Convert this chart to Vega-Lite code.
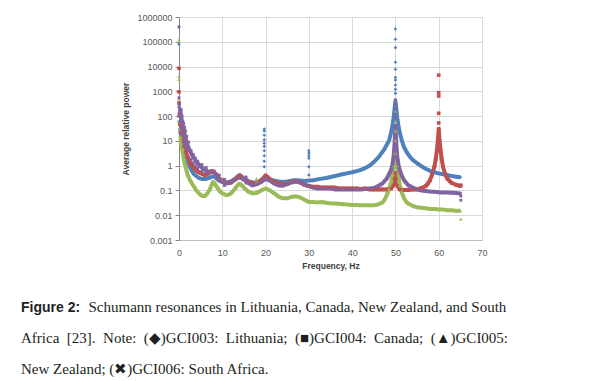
{
"$schema": "https://vega.github.io/schema/vega-lite/v6.json",
"autosize": "none",
"width": 303,
"height": 223,
"padding": {"left": 179, "top": 17, "right": 111, "bottom": 141},
"background": "white",
"config": {"view": {"stroke": null}},
"title": {
  "text": "Figure 2:",
  "subtitle": ["\u200b\u00a0\u00a0\u00a0\u00a0\u00a0\u00a0\u00a0\u00a0\u00a0\u00a0\u00a0\u00a0\u00a0\u00a0\u00a0\u00a0\u00a0\u00a0Schumann resonances in Lithuania, Canada, New Zealand, and South", "Africa\u00a0 [23].\u00a0 Note:\u00a0  (\u25c6)GCI003:\u00a0 Lithuania;\u00a0 (\u25a0)GCI004:\u00a0 Canada;\u00a0 (\u25b2)GCI005:", "New Zealand; (\u2716)GCI006: South Africa."],
  "orient": "bottom", "anchor": "start", "frame": "group", "dx": -158, "offset": 31,
  "font": "Liberation Sans", "fontSize": 14, "fontWeight": "bold", "color": "#231f20",
  "subtitleFont": "Liberation Serif", "subtitleFontSize": 15, "subtitleColor": "#231f20",
  "subtitleLineHeight": 31, "subtitlePadding": -15
},
"data": {"values": [
{"s":"GCI003","f":0,"v":80000,"k":1},{"s":"GCI003","f":0,"v":300,"k":1},{"s":"GCI003","f":0,"v":60,"k":1},{"s":"GCI003","f":0.1,"v":100,"k":1},
{"s":"GCI003","f":0.2,"v":30},{"s":"GCI003","f":0.5,"v":15},{"s":"GCI003","f":0.8,"v":8},{"s":"GCI003","f":1,"v":6},{"s":"GCI003","f":1.3,"v":3.5},{"s":"GCI003","f":1.6,"v":2.2},{"s":"GCI003","f":2,"v":1.4},{"s":"GCI003","f":2.5,"v":0.9},{"s":"GCI003","f":3,"v":0.6},{"s":"GCI003","f":3.5,"v":0.45},{"s":"GCI003","f":4,"v":0.38},{"s":"GCI003","f":4.5,"v":0.33},{"s":"GCI003","f":5,"v":0.3},{"s":"GCI003","f":5.5,"v":0.29},{"s":"GCI003","f":6,"v":0.29},{"s":"GCI003","f":6.5,"v":0.3},{"s":"GCI003","f":7,"v":0.32},{"s":"GCI003","f":7.5,"v":0.36},{"s":"GCI003","f":8,"v":0.37},{"s":"GCI003","f":8.5,"v":0.32},{"s":"GCI003","f":9,"v":0.27},{"s":"GCI003","f":9.5,"v":0.24},{"s":"GCI003","f":10,"v":0.22},{"s":"GCI003","f":11,"v":0.21},{"s":"GCI003","f":12,"v":0.23},{"s":"GCI003","f":13,"v":0.3},{"s":"GCI003","f":13.5,"v":0.36},{"s":"GCI003","f":14,"v":0.42},{"s":"GCI003","f":14.5,"v":0.36},{"s":"GCI003","f":15,"v":0.3},{"s":"GCI003","f":16,"v":0.24},{"s":"GCI003","f":17,"v":0.21},{"s":"GCI003","f":18,"v":0.21},{"s":"GCI003","f":19,"v":0.24},{"s":"GCI003","f":19.5,"v":0.3},{"s":"GCI003","f":20,"v":0.38},{"s":"GCI003","f":20.5,"v":0.32},{"s":"GCI003","f":21,"v":0.28},{"s":"GCI003","f":22,"v":0.25},{"s":"GCI003","f":23,"v":0.23},{"s":"GCI003","f":24,"v":0.22},{"s":"GCI003","f":25,"v":0.23},{"s":"GCI003","f":26,"v":0.25},{"s":"GCI003","f":27,"v":0.26},{"s":"GCI003","f":28,"v":0.25},{"s":"GCI003","f":29,"v":0.24},{"s":"GCI003","f":30,"v":0.25},{"s":"GCI003","f":31,"v":0.26},{"s":"GCI003","f":32,"v":0.28},{"s":"GCI003","f":33,"v":0.3},{"s":"GCI003","f":34,"v":0.32},{"s":"GCI003","f":35,"v":0.35},{"s":"GCI003","f":36,"v":0.38},{"s":"GCI003","f":37,"v":0.42},{"s":"GCI003","f":38,"v":0.46},{"s":"GCI003","f":39,"v":0.5},{"s":"GCI003","f":40,"v":0.54},{"s":"GCI003","f":41,"v":0.6},{"s":"GCI003","f":42,"v":0.68},{"s":"GCI003","f":43,"v":0.8},{"s":"GCI003","f":44,"v":1},{"s":"GCI003","f":45,"v":1.4},{"s":"GCI003","f":46,"v":2.1},{"s":"GCI003","f":46.5,"v":2.7},{"s":"GCI003","f":47,"v":3.6},{"s":"GCI003","f":47.5,"v":4.8},{"s":"GCI003","f":48,"v":7},{"s":"GCI003","f":48.5,"v":10},{"s":"GCI003","f":49,"v":22},{"s":"GCI003","f":49.3,"v":40},{"s":"GCI003","f":49.6,"v":90},{"s":"GCI003","f":49.8,"v":200},{"s":"GCI003","f":50,"v":400},{"s":"GCI003","f":50.2,"v":200},{"s":"GCI003","f":50.4,"v":90},{"s":"GCI003","f":50.7,"v":40},{"s":"GCI003","f":51,"v":22},{"s":"GCI003","f":51.5,"v":10},{"s":"GCI003","f":52,"v":5.5},{"s":"GCI003","f":52.5,"v":3.8},{"s":"GCI003","f":53,"v":2.8},{"s":"GCI003","f":53.5,"v":2.1},{"s":"GCI003","f":54,"v":1.7},{"s":"GCI003","f":55,"v":1.25},{"s":"GCI003","f":56,"v":0.95},{"s":"GCI003","f":57,"v":0.75},{"s":"GCI003","f":58,"v":0.62},{"s":"GCI003","f":59,"v":0.54},{"s":"GCI003","f":60,"v":0.49},{"s":"GCI003","f":61,"v":0.45},{"s":"GCI003","f":62,"v":0.42},{"s":"GCI003","f":63,"v":0.38},{"s":"GCI003","f":64,"v":0.36},{"s":"GCI003","f":65,"v":0.34},
{"s":"GCI003","f":19.7,"v":30,"k":1},{"s":"GCI003","f":19.7,"v":25,"k":1},{"s":"GCI003","f":19.7,"v":17,"k":1},{"s":"GCI003","f":19.7,"v":11,"k":1},{"s":"GCI003","f":19.7,"v":8,"k":1},{"s":"GCI003","f":19.7,"v":6,"k":1},{"s":"GCI003","f":19.7,"v":4,"k":1},{"s":"GCI003","f":19.7,"v":2.5,"k":1},{"s":"GCI003","f":19.7,"v":1.5,"k":1},{"s":"GCI003","f":19.7,"v":0.9,"k":1},
{"s":"GCI003","f":30,"v":4,"k":1},{"s":"GCI003","f":30,"v":3.2,"k":1},{"s":"GCI003","f":30,"v":2.5,"k":1},{"s":"GCI003","f":30,"v":2,"k":1},{"s":"GCI003","f":30,"v":0.9,"k":1},{"s":"GCI003","f":30,"v":0.42,"k":1},
{"s":"GCI003","f":50,"v":330000,"k":1},{"s":"GCI003","f":50,"v":126000,"k":1},{"s":"GCI003","f":50,"v":58000,"k":1},{"s":"GCI003","f":50,"v":15000,"k":1},{"s":"GCI003","f":50,"v":7800,"k":1},{"s":"GCI003","f":50,"v":3700,"k":1},{"s":"GCI003","f":50,"v":2900,"k":1},{"s":"GCI003","f":50,"v":1800,"k":1},{"s":"GCI003","f":50,"v":1200,"k":1},{"s":"GCI003","f":50,"v":830,"k":1},{"s":"GCI003","f":50,"v":450,"k":1},{"s":"GCI003","f":65.1,"v":0.17,"k":1},
{"s":"GCI004","f":0,"v":8500,"k":1},{"s":"GCI004","f":0,"v":950,"k":1},{"s":"GCI004","f":0,"v":340,"k":1},{"s":"GCI004","f":0.1,"v":120,"k":1},
{"s":"GCI004","f":0.2,"v":50},{"s":"GCI004","f":0.4,"v":40},{"s":"GCI004","f":0.6,"v":25},{"s":"GCI004","f":0.8,"v":15},{"s":"GCI004","f":1,"v":10},{"s":"GCI004","f":1.3,"v":6},{"s":"GCI004","f":1.6,"v":3.5},{"s":"GCI004","f":2,"v":2.2},{"s":"GCI004","f":2.5,"v":1.4},{"s":"GCI004","f":3,"v":1},{"s":"GCI004","f":3.5,"v":0.8},{"s":"GCI004","f":4,"v":0.65},{"s":"GCI004","f":4.5,"v":0.55},{"s":"GCI004","f":5,"v":0.5},{"s":"GCI004","f":5.5,"v":0.45},{"s":"GCI004","f":6,"v":0.42},{"s":"GCI004","f":6.5,"v":0.45},{"s":"GCI004","f":7,"v":0.52},{"s":"GCI004","f":7.5,"v":0.6},{"s":"GCI004","f":8,"v":0.58},{"s":"GCI004","f":8.5,"v":0.45},{"s":"GCI004","f":9,"v":0.35},{"s":"GCI004","f":9.5,"v":0.28},{"s":"GCI004","f":10,"v":0.24},{"s":"GCI004","f":11,"v":0.2},{"s":"GCI004","f":12,"v":0.21},{"s":"GCI004","f":13,"v":0.28},{"s":"GCI004","f":13.5,"v":0.34},{"s":"GCI004","f":14,"v":0.4},{"s":"GCI004","f":14.5,"v":0.34},{"s":"GCI004","f":15,"v":0.28},{"s":"GCI004","f":16,"v":0.22},{"s":"GCI004","f":17,"v":0.19},{"s":"GCI004","f":18,"v":0.2},{"s":"GCI004","f":19,"v":0.26},{"s":"GCI004","f":20,"v":0.4},{"s":"GCI004","f":20.5,"v":0.34},{"s":"GCI004","f":21,"v":0.28},{"s":"GCI004","f":22,"v":0.22},{"s":"GCI004","f":23,"v":0.19},{"s":"GCI004","f":24,"v":0.18},{"s":"GCI004","f":25,"v":0.19},{"s":"GCI004","f":26,"v":0.22},{"s":"GCI004","f":27,"v":0.24},{"s":"GCI004","f":28,"v":0.21},{"s":"GCI004","f":29,"v":0.17},{"s":"GCI004","f":30,"v":0.15},{"s":"GCI004","f":31,"v":0.14},{"s":"GCI004","f":32,"v":0.14},{"s":"GCI004","f":33,"v":0.13},{"s":"GCI004","f":34,"v":0.13},{"s":"GCI004","f":35,"v":0.13},{"s":"GCI004","f":36,"v":0.13},{"s":"GCI004","f":37,"v":0.12},{"s":"GCI004","f":38,"v":0.12},{"s":"GCI004","f":39,"v":0.12},{"s":"GCI004","f":40,"v":0.12},{"s":"GCI004","f":41,"v":0.12},{"s":"GCI004","f":42,"v":0.115},{"s":"GCI004","f":43,"v":0.12},{"s":"GCI004","f":44,"v":0.11},{"s":"GCI004","f":45,"v":0.11},{"s":"GCI004","f":46,"v":0.11},{"s":"GCI004","f":47,"v":0.11},{"s":"GCI004","f":48,"v":0.11},{"s":"GCI004","f":49,"v":0.12},{"s":"GCI004","f":49.5,"v":0.16},{"s":"GCI004","f":49.8,"v":0.3},{"s":"GCI004","f":50,"v":0.5},{"s":"GCI004","f":50.2,"v":0.3},{"s":"GCI004","f":50.5,"v":0.15},{"s":"GCI004","f":51,"v":0.11},{"s":"GCI004","f":52,"v":0.105},{"s":"GCI004","f":53,"v":0.105},{"s":"GCI004","f":54,"v":0.11},{"s":"GCI004","f":55,"v":0.11},{"s":"GCI004","f":56,"v":0.125},{"s":"GCI004","f":57,"v":0.15},{"s":"GCI004","f":57.5,"v":0.19},{"s":"GCI004","f":58,"v":0.26},{"s":"GCI004","f":58.5,"v":0.45},{"s":"GCI004","f":59,"v":0.9},{"s":"GCI004","f":59.3,"v":1.8},{"s":"GCI004","f":59.6,"v":4.5},{"s":"GCI004","f":59.8,"v":10},{"s":"GCI004","f":60,"v":30},{"s":"GCI004","f":60.2,"v":10},{"s":"GCI004","f":60.4,"v":4.5},{"s":"GCI004","f":60.7,"v":1.8},{"s":"GCI004","f":61,"v":0.9},{"s":"GCI004","f":61.5,"v":0.45},{"s":"GCI004","f":62,"v":0.3},{"s":"GCI004","f":62.5,"v":0.24},{"s":"GCI004","f":63,"v":0.2},{"s":"GCI004","f":64,"v":0.17},{"s":"GCI004","f":65,"v":0.15},
{"s":"GCI004","f":60,"v":4500,"k":1},{"s":"GCI004","f":60,"v":880,"k":1},{"s":"GCI004","f":60,"v":650,"k":1},{"s":"GCI004","f":60,"v":130,"k":1},{"s":"GCI004","f":60,"v":53,"k":1},{"s":"GCI004","f":65.1,"v":0.16,"k":1},
{"s":"GCI005","f":0,"v":120000,"k":1},{"s":"GCI005","f":0,"v":4000,"k":1},{"s":"GCI005","f":0,"v":3000,"k":1},{"s":"GCI005","f":0,"v":500,"k":1},{"s":"GCI005","f":0,"v":60,"k":1},{"s":"GCI005","f":0.1,"v":30,"k":1},
{"s":"GCI005","f":0.3,"v":15},{"s":"GCI005","f":0.5,"v":8},{"s":"GCI005","f":0.8,"v":4},{"s":"GCI005","f":1,"v":2.3},{"s":"GCI005","f":1.3,"v":1.3},{"s":"GCI005","f":1.5,"v":0.9},{"s":"GCI005","f":2,"v":0.42},{"s":"GCI005","f":2.5,"v":0.27},{"s":"GCI005","f":3,"v":0.19},{"s":"GCI005","f":3.5,"v":0.14},{"s":"GCI005","f":4,"v":0.1},{"s":"GCI005","f":4.5,"v":0.08},{"s":"GCI005","f":5,"v":0.066},{"s":"GCI005","f":5.5,"v":0.06},{"s":"GCI005","f":6,"v":0.06},{"s":"GCI005","f":6.5,"v":0.075},{"s":"GCI005","f":7,"v":0.1},{"s":"GCI005","f":7.5,"v":0.16},{"s":"GCI005","f":7.8,"v":0.22},{"s":"GCI005","f":8.2,"v":0.2},{"s":"GCI005","f":8.5,"v":0.16},{"s":"GCI005","f":9,"v":0.12},{"s":"GCI005","f":9.5,"v":0.09},{"s":"GCI005","f":10,"v":0.076},{"s":"GCI005","f":11,"v":0.064},{"s":"GCI005","f":12,"v":0.075},{"s":"GCI005","f":13,"v":0.12},{"s":"GCI005","f":13.5,"v":0.16},{"s":"GCI005","f":14,"v":0.19},{"s":"GCI005","f":14.5,"v":0.16},{"s":"GCI005","f":15,"v":0.13},{"s":"GCI005","f":16,"v":0.09},{"s":"GCI005","f":17,"v":0.076},{"s":"GCI005","f":18,"v":0.08},{"s":"GCI005","f":19,"v":0.1},{"s":"GCI005","f":20,"v":0.12},{"s":"GCI005","f":21,"v":0.1},{"s":"GCI005","f":22,"v":0.076},{"s":"GCI005","f":23,"v":0.056},{"s":"GCI005","f":24,"v":0.048},{"s":"GCI005","f":25,"v":0.048},{"s":"GCI005","f":26,"v":0.055},{"s":"GCI005","f":27,"v":0.058},{"s":"GCI005","f":28,"v":0.052},{"s":"GCI005","f":29,"v":0.042},{"s":"GCI005","f":30,"v":0.034},{"s":"GCI005","f":31,"v":0.034},{"s":"GCI005","f":32,"v":0.033},{"s":"GCI005","f":33,"v":0.034},{"s":"GCI005","f":34,"v":0.032},{"s":"GCI005","f":35,"v":0.03},{"s":"GCI005","f":36,"v":0.03},{"s":"GCI005","f":37,"v":0.029},{"s":"GCI005","f":38,"v":0.028},{"s":"GCI005","f":39,"v":0.027},{"s":"GCI005","f":40,"v":0.026},{"s":"GCI005","f":41,"v":0.026},{"s":"GCI005","f":42,"v":0.025},{"s":"GCI005","f":43,"v":0.025},{"s":"GCI005","f":44,"v":0.025},{"s":"GCI005","f":45,"v":0.025},{"s":"GCI005","f":46,"v":0.027},{"s":"GCI005","f":47,"v":0.033},{"s":"GCI005","f":47.5,"v":0.042},{"s":"GCI005","f":48,"v":0.065},{"s":"GCI005","f":48.5,"v":0.11},{"s":"GCI005","f":49,"v":0.22},{"s":"GCI005","f":49.3,"v":0.4},{"s":"GCI005","f":49.6,"v":1},{"s":"GCI005","f":49.8,"v":3},{"s":"GCI005","f":50,"v":10},{"s":"GCI005","f":50.2,"v":3},{"s":"GCI005","f":50.4,"v":1},{"s":"GCI005","f":50.7,"v":0.35},{"s":"GCI005","f":51,"v":0.16},{"s":"GCI005","f":51.5,"v":0.08},{"s":"GCI005","f":52,"v":0.048},{"s":"GCI005","f":52.5,"v":0.035},{"s":"GCI005","f":53,"v":0.029},{"s":"GCI005","f":54,"v":0.024},{"s":"GCI005","f":55,"v":0.021},{"s":"GCI005","f":56,"v":0.02},{"s":"GCI005","f":57,"v":0.019},{"s":"GCI005","f":58,"v":0.018},{"s":"GCI005","f":59,"v":0.018},{"s":"GCI005","f":60,"v":0.017},{"s":"GCI005","f":61,"v":0.017},{"s":"GCI005","f":62,"v":0.016},{"s":"GCI005","f":63,"v":0.016},{"s":"GCI005","f":64,"v":0.015},{"s":"GCI005","f":65,"v":0.015},
{"s":"GCI005","f":17.9,"v":0.3,"k":1},{"s":"GCI005","f":17.9,"v":0.22,"k":1},{"s":"GCI005","f":50,"v":450,"k":1},{"s":"GCI005","f":50,"v":150,"k":1},{"s":"GCI005","f":50,"v":60,"k":1},{"s":"GCI005","f":50,"v":25,"k":1},{"s":"GCI005","f":65.1,"v":0.007,"k":1},
{"s":"GCI006","f":0,"v":400000,"k":1},{"s":"GCI006","f":0,"v":550,"k":1},{"s":"GCI006","f":0,"v":230,"k":1},{"s":"GCI006","f":0,"v":100,"k":1},{"s":"GCI006","f":0.1,"v":300,"k":1},{"s":"GCI006","f":0.3,"v":150,"k":1},{"s":"GCI006","f":0.3,"v":60,"k":1},{"s":"GCI006","f":0.5,"v":180,"k":1},{"s":"GCI006","f":0.5,"v":35,"k":1},{"s":"GCI006","f":0.7,"v":100,"k":1},{"s":"GCI006","f":0.7,"v":30,"k":1},{"s":"GCI006","f":0.9,"v":60,"k":1},{"s":"GCI006","f":0.9,"v":18,"k":1},{"s":"GCI006","f":1.1,"v":50,"k":1},{"s":"GCI006","f":1.1,"v":15,"k":1},{"s":"GCI006","f":1.3,"v":35,"k":1},{"s":"GCI006","f":1.3,"v":10,"k":1},{"s":"GCI006","f":1.5,"v":25,"k":1},{"s":"GCI006","f":1.5,"v":7,"k":1},{"s":"GCI006","f":1.8,"v":15,"k":1},{"s":"GCI006","f":1.8,"v":5,"k":1},{"s":"GCI006","f":2.2,"v":9,"k":1},{"s":"GCI006","f":2.2,"v":4,"k":1},{"s":"GCI006","f":2.8,"v":4,"k":1},{"s":"GCI006","f":2.8,"v":1.8,"k":1},{"s":"GCI006","f":3.3,"v":2.8,"k":1},{"s":"GCI006","f":3.3,"v":1.3,"k":1},{"s":"GCI006","f":3.8,"v":2,"k":1},{"s":"GCI006","f":3.8,"v":1,"k":1},{"s":"GCI006","f":4.3,"v":1.5,"k":1},{"s":"GCI006","f":4.3,"v":0.8,"k":1},{"s":"GCI006","f":5.3,"v":1.1,"k":1},{"s":"GCI006","f":5.3,"v":0.6,"k":1},{"s":"GCI006","f":6.3,"v":0.85,"k":1},{"s":"GCI006","f":6.3,"v":0.5,"k":1},{"s":"GCI006","f":9.3,"v":0.42,"k":1},{"s":"GCI006","f":9.3,"v":0.24,"k":1},{"s":"GCI006","f":10.5,"v":0.28,"k":1},{"s":"GCI006","f":10.5,"v":0.16,"k":1},{"s":"GCI006","f":15.5,"v":0.35,"k":1},{"s":"GCI006","f":15.5,"v":0.2,"k":1},
{"s":"GCI006","f":0.2,"v":200},{"s":"GCI006","f":0.4,"v":120},{"s":"GCI006","f":0.6,"v":70},{"s":"GCI006","f":0.8,"v":45},{"s":"GCI006","f":1,"v":30},{"s":"GCI006","f":1.3,"v":18},{"s":"GCI006","f":1.6,"v":11},{"s":"GCI006","f":2,"v":6.5},{"s":"GCI006","f":2.5,"v":4},{"s":"GCI006","f":3,"v":2.7},{"s":"GCI006","f":3.5,"v":2},{"s":"GCI006","f":4,"v":1.45},{"s":"GCI006","f":4.5,"v":1.15},{"s":"GCI006","f":5,"v":0.92},{"s":"GCI006","f":5.5,"v":0.78},{"s":"GCI006","f":6,"v":0.68},{"s":"GCI006","f":6.5,"v":0.6},{"s":"GCI006","f":7,"v":0.57},{"s":"GCI006","f":7.5,"v":0.57},{"s":"GCI006","f":8,"v":0.55},{"s":"GCI006","f":8.5,"v":0.44},{"s":"GCI006","f":9,"v":0.33},{"s":"GCI006","f":9.5,"v":0.26},{"s":"GCI006","f":10,"v":0.22},{"s":"GCI006","f":11,"v":0.19},{"s":"GCI006","f":12,"v":0.21},{"s":"GCI006","f":13,"v":0.28},{"s":"GCI006","f":14,"v":0.34},{"s":"GCI006","f":14.5,"v":0.31},{"s":"GCI006","f":15,"v":0.27},{"s":"GCI006","f":16,"v":0.2},{"s":"GCI006","f":17,"v":0.16},{"s":"GCI006","f":18,"v":0.18},{"s":"GCI006","f":19,"v":0.22},{"s":"GCI006","f":20,"v":0.29},{"s":"GCI006","f":21,"v":0.25},{"s":"GCI006","f":22,"v":0.19},{"s":"GCI006","f":23,"v":0.16},{"s":"GCI006","f":24,"v":0.155},{"s":"GCI006","f":25,"v":0.18},{"s":"GCI006","f":26,"v":0.21},{"s":"GCI006","f":27,"v":0.23},{"s":"GCI006","f":28,"v":0.21},{"s":"GCI006","f":29,"v":0.17},{"s":"GCI006","f":30,"v":0.15},{"s":"GCI006","f":31,"v":0.13},{"s":"GCI006","f":32,"v":0.12},{"s":"GCI006","f":33,"v":0.12},{"s":"GCI006","f":34,"v":0.12},{"s":"GCI006","f":35,"v":0.12},{"s":"GCI006","f":36,"v":0.11},{"s":"GCI006","f":37,"v":0.11},{"s":"GCI006","f":38,"v":0.11},{"s":"GCI006","f":39,"v":0.11},{"s":"GCI006","f":40,"v":0.11},{"s":"GCI006","f":41,"v":0.11},{"s":"GCI006","f":42,"v":0.11},{"s":"GCI006","f":43,"v":0.115},{"s":"GCI006","f":44,"v":0.12},{"s":"GCI006","f":45,"v":0.125},{"s":"GCI006","f":46,"v":0.15},{"s":"GCI006","f":47,"v":0.19},{"s":"GCI006","f":47.5,"v":0.24},{"s":"GCI006","f":48,"v":0.3},{"s":"GCI006","f":48.5,"v":0.45},{"s":"GCI006","f":49,"v":0.67},{"s":"GCI006","f":49.3,"v":1.1},{"s":"GCI006","f":49.6,"v":2.5},{"s":"GCI006","f":49.8,"v":8},{"s":"GCI006","f":50,"v":40},{"s":"GCI006","f":50.2,"v":8},{"s":"GCI006","f":50.4,"v":2.5},{"s":"GCI006","f":50.7,"v":1.1},{"s":"GCI006","f":51,"v":0.67},{"s":"GCI006","f":51.5,"v":0.38},{"s":"GCI006","f":52,"v":0.26},{"s":"GCI006","f":52.5,"v":0.2},{"s":"GCI006","f":53,"v":0.16},{"s":"GCI006","f":54,"v":0.13},{"s":"GCI006","f":55,"v":0.11},{"s":"GCI006","f":56,"v":0.1},{"s":"GCI006","f":57,"v":0.095},{"s":"GCI006","f":58,"v":0.09},{"s":"GCI006","f":59,"v":0.088},{"s":"GCI006","f":60,"v":0.085},{"s":"GCI006","f":61,"v":0.083},{"s":"GCI006","f":62,"v":0.082},{"s":"GCI006","f":63,"v":0.08},{"s":"GCI006","f":64,"v":0.078},{"s":"GCI006","f":65,"v":0.076},
{"s":"GCI006","f":50,"v":450,"k":1},{"s":"GCI006","f":50,"v":300,"k":1},{"s":"GCI006","f":50,"v":200,"k":1},{"s":"GCI006","f":50,"v":120,"k":1},{"s":"GCI006","f":50,"v":80,"k":1},{"s":"GCI006","f":65.1,"v":0.04,"k":1},{"s":"GCI006","f":65.1,"v":0.06,"k":1}
]},
"encoding": {
  "x": {"field": "f", "type": "quantitative", "scale": {"domain": [0, 70], "nice": false},
    "axis": {"values": [0,10,20,30,40,50,60,70], "title": "Frequency, Hz", "grid": true, "gridColor": "#d9d9d9", "domainColor": "#bfbfbf", "ticks": false, "labelFlush": false, "labelOverlap": false, "labelPadding": 8, "labelFont": "Liberation Sans", "labelFontSize": 9, "labelColor": "#595959", "titleFont": "Liberation Sans", "titleFontSize": 8.5, "titleFontWeight": "bold", "titleColor": "#404040", "titlePadding": 4}},
  "y": {"field": "v", "type": "quantitative", "scale": {"type": "log", "domain": [0.001, 1000000], "nice": false},
    "axis": {"values": [0.001,0.01,0.1,1,10,100,1000,10000,100000,1000000], "format": "~f", "title": "Average relative power", "grid": true, "gridColor": "#d9d9d9", "domainColor": "#868686", "tickColor": "#868686", "tickSize": 4, "labelFlush": false, "labelOverlap": false, "labelPadding": 3, "labelFont": "Liberation Sans", "labelFontSize": 9, "labelColor": "#595959", "titleFont": "Liberation Sans", "titleFontSize": 8.5, "titleFontWeight": "bold", "titleColor": "#404040", "titlePadding": 6}},
  "color": {"field": "s", "type": "nominal", "scale": {"domain": ["GCI003","GCI004","GCI005","GCI006"], "range": ["#4f81bd","#c0504d","#9bbb59","#8064a2"]}, "legend": null}
},
"layer": [
  {"transform": [{"filter": "!datum.k"}], "mark": {"type": "line", "strokeWidth": 4, "strokeJoin": "round"}},
  {"mark": {"type": "point", "filled": true, "size": 13, "opacity": 1},
   "encoding": {
     "shape": {"field": "s", "type": "nominal", "scale": {"domain": ["GCI003","GCI004","GCI005","GCI006"], "range": ["diamond","square","triangle-up","cross"]}, "legend": null},
     "angle": {"condition": {"test": "datum.s == 'GCI006'", "value": 45}, "value": 0}
   }}
]
}
